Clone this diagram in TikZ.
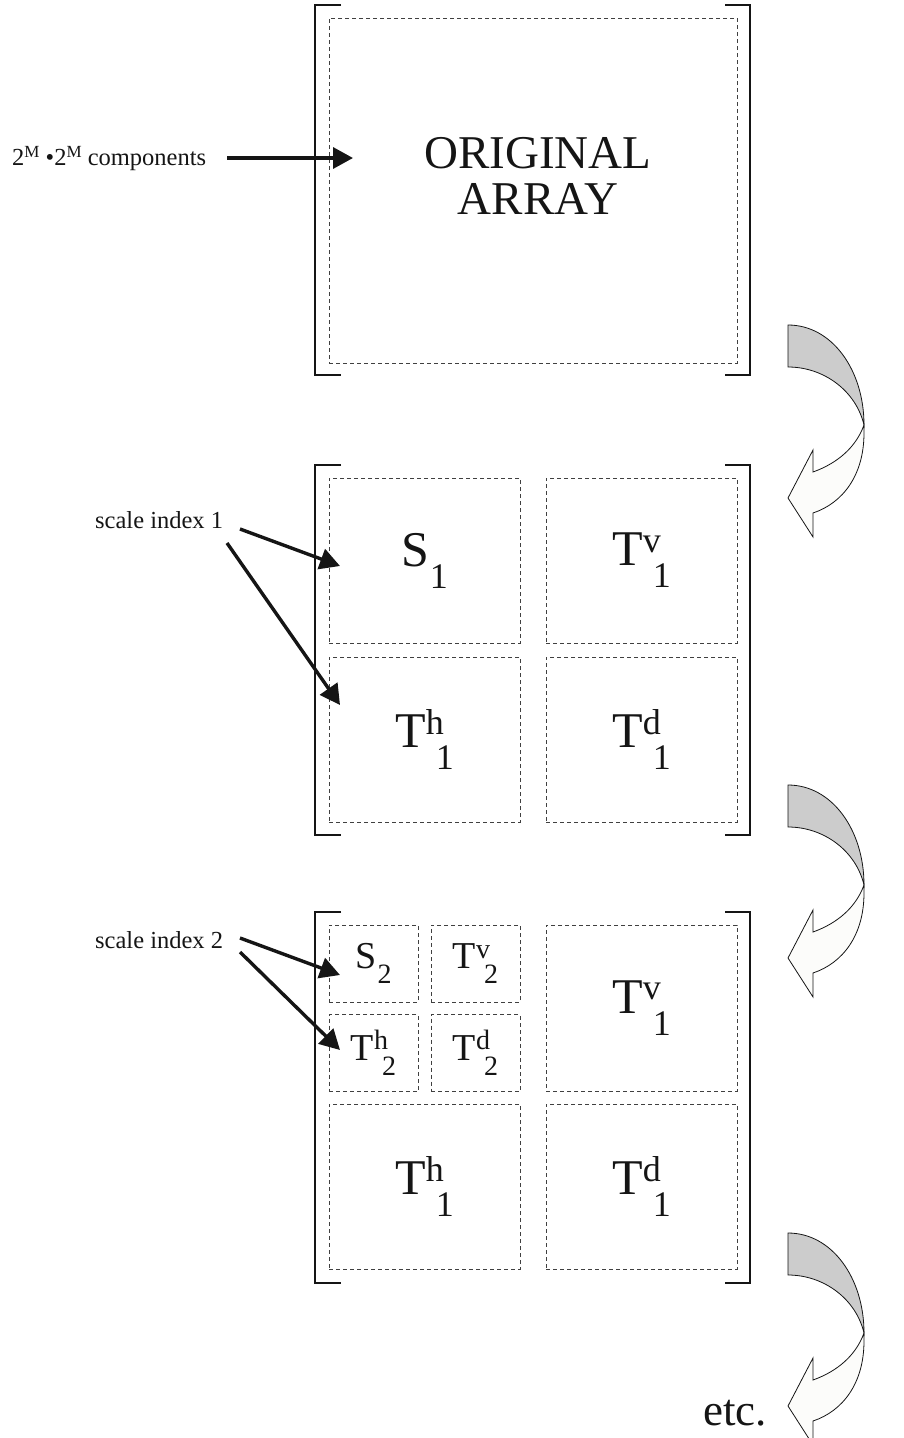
\documentclass[tikz,border=0pt]{standalone}
\usepackage{fontspec}
\setmainfont{Liberation Serif}
\usetikzlibrary{arrows.meta}
\definecolor{ink}{HTML}{151515}
\definecolor{dashc}{HTML}{404040}
\definecolor{ribgrey}{HTML}{CCCCCC}
\definecolor{ribwhite}{HTML}{FCFCFA}
\newcommand\BigT[3]{\fontsize{50}{50}\selectfont #1\raisebox{0.27em}{\fontsize{36}{36}\selectfont #2}\kern-8pt\raisebox{-0.44em}{\fontsize{36}{36}\selectfont #3}}
\newcommand\BigS[2]{\fontsize{50}{50}\selectfont #1\kern1pt\raisebox{-0.44em}{\fontsize{36}{36}\selectfont #2}}
\newcommand\SmT[3]{\fontsize{38}{38}\selectfont #1\raisebox{0.27em}{\fontsize{28}{28}\selectfont #2}\kern-6pt\raisebox{-0.4em}{\fontsize{28}{28}\selectfont #3}}
\newcommand\SmS[2]{\fontsize{38}{38}\selectfont #1\kern1pt\raisebox{-0.4em}{\fontsize{28}{28}\selectfont #2}}
\newcommand\RibArrow[1]{%
\begin{scope}[shift={(788,#1)}]
\path[rib, fill=ribgrey] (0,0) .. controls (44,0) and (76,45) .. (76,100) .. controls (68,66) and (36,42) .. (0,42) -- cycle;
\path[rib, fill=ribwhite] (76,100) -- (76,108) .. controls (76,150) and (55,178) .. (25,188) -- (25,212) -- (0,173) -- (25,125) -- (25,147) .. controls (50,138) and (68,122) .. (76,100) -- cycle;
\end{scope}}
\begin{document}
\begin{tikzpicture}[x=1pt,y=-1pt,
  brk/.style={draw=ink, line width=2.6pt, line cap=butt, line join=miter},
  dbox/.style={draw=dashc, line width=1pt, dash pattern=on 4pt off 3pt, inner sep=0pt, text=ink},
  bigbox/.style={dbox, minimum width=191pt, minimum height=165pt},
  smbox/.style={dbox, minimum width=89pt, minimum height=77pt},
  arr/.style={draw=ink, line width=3.4pt, -{Triangle[length=20pt,width=21pt]}},
  rib/.style={draw=ink, line width=0.8pt, line join=miter},
  lbl/.style={inner sep=0pt, text=ink, font=\fontsize{24.5}{24.5}\selectfont}]
\path[use as bounding box] (0,0) rectangle (904,1438);

% ---------- bracket 1 : original array ----------
\draw[brk] (341,5) -- (315,5) -- (315,375) -- (341,375);
\draw[brk] (725,5) -- (750,5) -- (750,375) -- (725,375);
\node[dbox, minimum width=408pt, minimum height=345pt] (orig) at (533,190.5) {};
\node[inner sep=0pt, text=ink, align=center, font=\fontsize{47}{47}\selectfont] (origtxt) at (538,176) {ORIGINAL\\[-1pt]ARRAY};
\node[lbl, anchor=base west] (comp) at (12,165) {2\raisebox{0.3em}{\fontsize{17}{17}\selectfont M} •2\raisebox{0.3em}{\fontsize{17}{17}\selectfont M} components};
\coordinate (comptip) at (353,158);
\coordinate (compstart) at (227,158);
\draw[arr] (compstart) -- (comptip);

% ---------- bracket 2 : scale 1 ----------
\draw[brk] (341,465) -- (315,465) -- (315,835) -- (341,835);
\draw[brk] (725,465) -- (750,465) -- (750,835) -- (725,835);
\node[bigbox] (s1)  at (424.5,560.5) {\BigS{S}{1}};
\node[bigbox] (tv1) at (641.5,560.5) {\BigT{T}{v}{1}};
\node[bigbox] (th1) at (424.5,739.5) {\BigT{T}{h}{1}};
\node[bigbox] (td1) at (641.5,739.5) {\BigT{T}{d}{1}};
\node[lbl, anchor=base west] (si1) at (95,528) {scale index 1};
\coordinate (si1a) at (340,566);
\coordinate (si1b) at (340,705);
\draw[arr] (240,529) -- (si1a);
\draw[arr] (227,543) -- (si1b);

% ---------- bracket 3 : scale 2 ----------
\draw[brk] (341,912) -- (315,912) -- (315,1283) -- (341,1283);
\draw[brk] (725,912) -- (750,912) -- (750,1283) -- (725,1283);
\node[smbox] (s2)  at (373.5,963.5) {\SmS{S}{2}};
\node[smbox] (tv2) at (475.5,963.5) {\SmT{T}{v}{2}};
\node[smbox] (th2) at (373.5,1053) {\SmT{T}{h}{2}};
\node[smbox] (td2) at (475.5,1053) {\SmT{T}{d}{2}};
\node[bigbox, minimum height=166pt] (tv1b) at (641.5,1008) {\BigT{T}{v}{1}};
\node[bigbox] (th1b) at (424.5,1186.5) {\BigT{T}{h}{1}};
\node[bigbox] (td1b) at (641.5,1186.5) {\BigT{T}{d}{1}};
\node[lbl, anchor=base west] (si2) at (95,948) {scale index 2};
\coordinate (si2a) at (340,975);
\coordinate (si2b) at (340,1050);
\draw[arr] (240,938) -- (si2a);
\draw[arr] (240,952) -- (si2b);

% ---------- ribbon arrows ----------
\RibArrow{325}
\RibArrow{785}
\RibArrow{1233}
\node[inner sep=0pt, anchor=base west, text=ink, font=\fontsize{45}{45}\selectfont] (etc) at (703,1425) {etc.};
\end{tikzpicture}
\end{document}
